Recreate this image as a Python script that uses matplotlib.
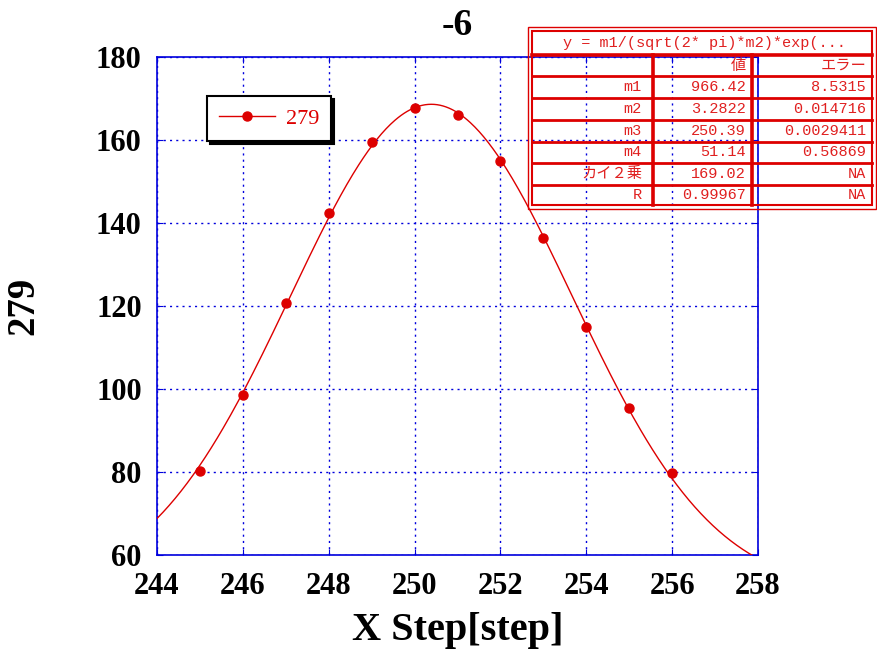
import numpy as np
import matplotlib
matplotlib.use("Agg")
import matplotlib.pyplot as plt

# measured points
x_pts = [245, 246, 247, 248, 249, 250, 251, 252, 253, 254, 255, 256]
y_pts = [80.3, 98.5, 120.8, 142.3, 159.5, 167.8, 166.0, 155.0, 136.5, 115.0, 95.5, 79.8]

# fit parameters shown in the table
fit_names = ["m1", "m2", "m3", "m4", "カイ２乗", "R"]
fit_vals = ["966.42", "3.2822", "250.39", "51.14", "169.02", "0.99967"]
fit_errs = ["8.5315", "0.014716", "0.0029411", "0.56869", "NA", "NA"]
m1, m2, m3, m4 = 966.42, 3.2822, 250.39, 51.14
formula = "y = m1/(sqrt(2* pi)*m2)*exp(..."

RED = "#dd0000"
BLUE = "#0000dd"
W, H = 885, 649

plt.rcParams["font.family"] = ["Liberation Serif", "DejaVu Serif"]
fig = plt.figure(figsize=(W / 100, H / 100), dpi=100)
ax = fig.add_axes([157 / W, 1 - 555 / H, (758 - 157) / W, (555 - 57) / H])

xf = np.linspace(244, 258, 400)
yf = m1 / (np.sqrt(2 * np.pi) * m2) * np.exp(-(xf - m3) ** 2 / (2 * m2 ** 2)) + m4
ax.plot(xf, yf, color=RED, lw=1, zorder=3)
ax.plot(x_pts, y_pts, "o", color=RED, ms=6.5, zorder=4)
# legend proxy: line + marker
ax.plot([], [], "-o", color=RED, lw=1, ms=6.5, label="279")

ax.set_xlim(244, 258)
ax.set_ylim(60, 180)
ax.set_xticks(range(244, 259, 2))
ax.set_yticks(range(60, 181, 20))
ax.grid(True, color=BLUE, lw=1, ls=(0, (1.5, 3)))
for s in ax.spines.values():
    s.set_color(BLUE)
    s.set_linewidth(1.2)
ax.tick_params(direction="in", colors=BLUE, labelcolor="black", length=4,
               top=True, right=True, labelsize=22)
ax.tick_params(axis="x", pad=12)
ax.tick_params(axis="y", pad=11)
for lab in ax.get_xticklabels() + ax.get_yticklabels():
    lab.set_fontweight("bold")

ax.set_xlabel("X Step[step]", fontsize=29, fontweight="bold", labelpad=8)
ax.set_ylabel("279", fontsize=28, fontweight="bold")
ax.yaxis.set_label_coords(-0.19, 0.5)
ax.set_title("-6", fontsize=27, fontweight="bold", pad=16)

leg = ax.legend(loc="upper left", bbox_to_anchor=(0.083, 0.922), borderaxespad=0,
                fancybox=False, shadow={"color": "black", "alpha": 1},
                edgecolor="black", framealpha=1, fontsize=16, handlelength=2.5,
                handletextpad=0.5, borderpad=0.55, labelcolor=RED)
leg.get_frame().set_linewidth(1.5)

# parameter table drawn in pixel coordinates
tx = fig.add_axes([527 / W, 1 - 211 / H, 350 / W, 185 / H])
tx.set_xlim(527, 877)
tx.set_ylim(211, 26)
tx.axis("off")
tx.add_patch(plt.Rectangle((528, 27), 348, 182, fill=False, ec=RED, lw=1))
tx.add_patch(plt.Rectangle((532, 31), 340, 174, fill=False, ec=RED, lw=1.5))
row_y = [55, 76, 98, 120, 142, 163, 185]
for y in row_y:
    tx.plot([532, 872], [y, y], color=RED, lw=2.6 if y == 55 else 2.0)
for x in [653, 752]:
    tx.plot([x, x], [55, 205], color=RED, lw=2.6)

tfont = ["Liberation Mono", "Noto Sans CJK JP"]
tkw = dict(color="#e02020", fontsize=11, family=tfont, va="center")
tx.text(704, 43, formula, ha="center", **tkw)
tx.text(746, 66, "値", ha="right", **tkw)
tx.text(866, 66, "エラー", ha="right", **tkw)
for i, (n, v, e) in enumerate(zip(fit_names, fit_vals, fit_errs)):
    yc = (row_y[i + 1] + (row_y[i + 2] if i + 2 < len(row_y) else 205)) / 2
    tx.text(642, yc, n, ha="right", **tkw)
    tx.text(746, yc, v, ha="right", **tkw)
    tx.text(866, yc, e, ha="right", **tkw)

fig.savefig("out.png", dpi=100)
